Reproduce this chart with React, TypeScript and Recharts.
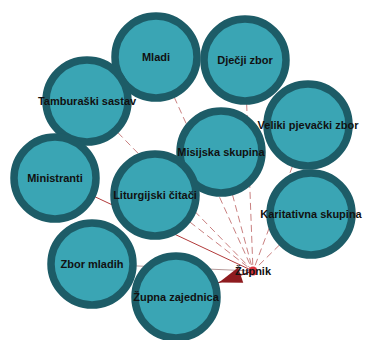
import { ScatterChart, Scatter, XAxis, YAxis } from "recharts";

// node layout (graph coordinates, same units as the picture)
const nodeNames = [
  "Mladi",
  "Tamburaški sastav",
  "Dječji zbor",
  "Veliki pjevački zbor",
  "Misijska skupina",
  "Ministranti",
  "Liturgijski čitači",
  "Karitativna skupina",
  "Zbor mladih",
  "Župna zajednica",
];
const nodeX = [156, 87, 245, 308, 221, 55, 155, 311, 92, 176];
const nodeY = [57, 101, 60, 125, 152, 178, 195, 214, 264, 297];

const hub = { name: "Župnik", x: 253, y: 271 };

// edge kind per node -> Župnik
const edgeKind = ["dash", "dash", "dash", "dash", "dash", "solid", "dash", "dash", "grey", "arrow"];

const nodes = nodeNames.map((name, i) => ({ name, x: nodeX[i], y: nodeY[i] }));

const RING = "#1d5c67";
const FILL = "#3aa5b4";

const edgeStyle: Record<string, { stroke: string; strokeWidth: number; strokeDasharray?: string }> = {
  dash: { stroke: "#c98080", strokeWidth: 1, strokeDasharray: "7 4" },
  solid: { stroke: "#b23a3a", strokeWidth: 1 },
  grey: { stroke: "#b79a9a", strokeWidth: 1 },
  arrow: { stroke: "#8e1b1f", strokeWidth: 1.2 },
};

const Empty = () => <g />;

const NodeShape = (props: any) => {
  const { cx, cy } = props;
  return <circle cx={cx} cy={cy} r={41} fill={FILL} stroke={RING} strokeWidth={7.5} />;
};

const LabelShape = (props: any) => {
  const { cx, cy, payload } = props;
  return (
    <text
      x={cx}
      y={cy}
      dy={4}
      textAnchor="middle"
      fontFamily="Liberation Sans, Arial, sans-serif"
      fontWeight="bold"
      fontSize={11}
      fill="#111"
    >
      {payload.name}
    </text>
  );
};

const ArrowShape = (props: any) => {
  const { cx, cy, payload } = props;
  const dx = payload.tx - payload.x;
  const dy = payload.ty - payload.y;
  const len = Math.hypot(dx, dy);
  const ux = dx / len;
  const uy = dy / len;
  const tip = [cx + ux * 36, cy + uy * 36];
  const bx = cx + ux * 13;
  const by = cy + uy * 13;
  const half = 8;
  const p1 = [bx - uy * half, by + ux * half];
  const p2 = [bx + uy * half, by - ux * half];
  return (
    <g>
      <polygon
        points={`${tip[0]},${tip[1]} ${p1[0]},${p1[1]} ${p2[0]},${p2[1]}`}
        fill="#8e1b1f"
      />
      <circle cx={cx} cy={cy} r={4.5} fill="#d8313c" />
    </g>
  );
};

export default function App() {
  const target = nodes[nodes.length - 1];
  return (
    <div style={{ position: "absolute", left: 0, top: 0, background: "#fff" }}>
      <ScatterChart width={366} height={340} margin={{ top: 0, right: 0, bottom: 0, left: 0 }}>
        <XAxis type="number" dataKey="x" domain={[0, 366]} hide allowDataOverflow />
        <YAxis type="number" dataKey="y" domain={[0, 340]} reversed hide width={0} allowDataOverflow />
        {nodes.map((n, i) => (
          <Scatter
            key={"e" + n.name}
            data={[n, hub]}
            line={edgeStyle[edgeKind[i]]}
            shape={Empty}
            legendType="none"
            isAnimationActive={false}
          />
        ))}
        <Scatter data={nodes} shape={NodeShape} isAnimationActive={false} />
        <Scatter
          data={[{ ...hub, tx: target.x, ty: target.y }]}
          shape={ArrowShape}
          isAnimationActive={false}
        />
        <Scatter data={[...nodes, hub]} shape={LabelShape} isAnimationActive={false} />
      </ScatterChart>
    </div>
  );
}
